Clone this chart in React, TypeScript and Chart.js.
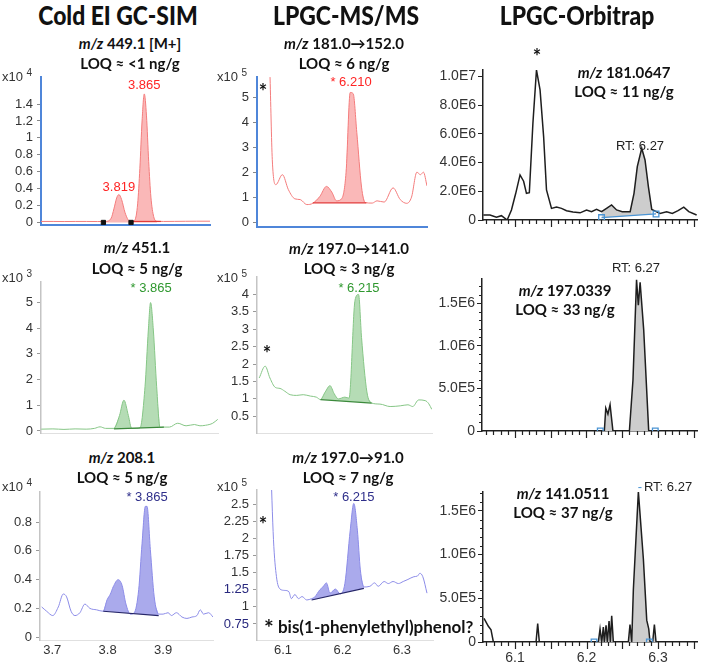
import React, { useEffect, useRef } from "react";
import { Chart, registerables } from "chart.js";

Chart.register(...registerables);

// ================= DATA =================
// Column titles and panel captions
const columnTitles = ["Cold EI GC-SIM", "LPGC-MS/MS", "LPGC-Orbitrap"];
const mzTexts = ["449.1 [M+]", "451.1", "208.1", "181.0\u2192152.0", "197.0\u2192141.0", "197.0\u219291.0", "181.0647", "197.0339", "141.0511"];
const loqTexts = ["<1", "5", "5", "6", "3", "7", "11", "33", "37"];
const exponentTexts = ["4", "3", "4", "5", "5", "5"];
const footnoteText = "bis(1-phenylethyl)phenol?";

// Cold EI GC-SIM, m/z 449.1 (x10^4 counts) vs retention time (min)
const sim449X = [3.678, 3.7, 3.72, 3.74, 3.76, 3.78, 3.795, 3.805, 3.81, 3.815, 3.819, 3.824, 3.83, 3.836, 3.842, 3.848, 3.853, 3.857, 3.861, 3.865, 3.869, 3.873, 3.877, 3.882, 3.888, 3.9, 3.92, 3.94, 3.96, 3.984];
const sim449Y = [0.012, 0.012, 0.011, 0.012, 0.012, 0.011, 0.012, 0.05, 0.16, 0.29, 0.33, 0.27, 0.12, 0.03, 0.012, 0.03, 0.22, 0.64, 1.2, 1.52, 1.26, 0.72, 0.3, 0.07, 0.014, 0.012, 0.013, 0.014, 0.015, 0.015];
const sim449BaseX = [3.841, 3.895];
const sim449BaseY = [0.012, 0.012];
const sim449MarkX = [3.791, 3.841];
const sim449MarkY = [0, 0];

// Cold EI GC-SIM, m/z 451.1 (x10^3)
const sim451X = [3.669, 3.69, 3.71, 3.73, 3.75, 3.765, 3.775, 3.785, 3.8, 3.81, 3.818, 3.826, 3.832, 3.84, 3.847, 3.856, 3.862, 3.866, 3.871, 3.877, 3.883, 3.89, 3.9, 3.915, 3.93, 3.945, 3.955, 3.965, 3.978, 3.987];
const sim451Y = [0.07, 0.08, 0.06, 0.08, 0.07, 0.1, 0.16, 0.1, 0.1, 0.6, 1.2, 0.6, 0.1, 0.1, 0.12, 1.72, 3.93, 5.0, 3.93, 1.72, 0.14, 0.15, 0.15, 0.3, 0.2, 0.25, 0.2, 0.22, 0.3, 0.45];
const sim451BaseX = [3.8, 3.89];
const sim451BaseY = [0.08, 0.15];

// Cold EI GC-SIM, m/z 208.1 (x10^4)
const sim208X = [3.681, 3.69, 3.701, 3.711, 3.72, 3.726, 3.734, 3.741, 3.75, 3.759, 3.768, 3.78, 3.792, 3.799, 3.805, 3.81, 3.819, 3.826, 3.833, 3.841, 3.848, 3.856, 3.862, 3.868, 3.871, 3.877, 3.884, 3.892, 3.9, 3.909, 3.915, 3.924, 3.934, 3.943, 3.952, 3.961, 3.967, 3.973, 3.982, 3.99];
const sim208Y = [0.21, 0.18, 0.15, 0.21, 0.3, 0.28, 0.18, 0.15, 0.17, 0.23, 0.2, 0.19, 0.18, 0.26, 0.3, 0.35, 0.4, 0.36, 0.23, 0.16, 0.17, 0.33, 0.65, 0.91, 0.91, 0.61, 0.28, 0.16, 0.16, 0.17, 0.15, 0.17, 0.14, 0.13, 0.14, 0.15, 0.19, 0.16, 0.17, 0.14];
const sim208BaseX = [3.792, 3.892];
const sim208BaseY = [0.18, 0.15];

// LPGC-MS/MS, 181.0 -> 152.0 (x10^5)
const ms152X = [6.074, 6.078, 6.082, 6.088, 6.099, 6.109, 6.12, 6.129, 6.14, 6.15, 6.162, 6.173, 6.182, 6.19, 6.199, 6.206, 6.213, 6.218, 6.224, 6.232, 6.238, 6.25, 6.258, 6.27, 6.285, 6.297, 6.308, 6.316, 6.325, 6.331, 6.336, 6.342];
const ms152Y = [9, 6, 2.5, 1.5, 1.9, 1.3, 0.93, 0.9, 0.7, 0.75, 1.03, 1.43, 1.2, 0.85, 0.95, 2.0, 5.2, 5.15, 3.6, 1.4, 0.78, 0.76, 0.85, 0.8, 1.37, 0.9, 0.75, 1.0, 2.0, 1.9, 2.0, 1.45];
const ms152BaseX = [6.15, 6.24];
const ms152BaseY = [0.77, 0.77];

// LPGC-MS/MS, 197.0 -> 141.0 (x10^5)
const ms141X = [6.06, 6.07, 6.078, 6.087, 6.095, 6.103, 6.112, 6.123, 6.134, 6.146, 6.156, 6.163, 6.171, 6.179, 6.186, 6.193, 6.204, 6.211, 6.221, 6.227, 6.232, 6.241, 6.249, 6.263, 6.28, 6.297, 6.31, 6.318, 6.328, 6.339, 6.345, 6.35];
const ms141Y = [1.6, 1.94, 1.6, 1.33, 1.3, 1.22, 1.12, 1.1, 1.12, 1.08, 1.05, 0.98, 1.2, 1.38, 1.15, 1.0, 1.05, 1.02, 3.83, 4.0, 2.76, 1.2, 0.88, 0.85, 0.78, 0.8, 0.83, 0.78, 0.97, 0.95, 0.86, 0.7];
const ms141BaseX = [6.163, 6.249];
const ms141BaseY = [0.98, 0.88];

// LPGC-MS/MS, 197.0 -> 91.0 (x10^5)
const ms91X = [6.079, 6.084, 6.089, 6.095, 6.103, 6.11, 6.114, 6.12, 6.126, 6.132, 6.14, 6.148, 6.153, 6.162, 6.167, 6.173, 6.179, 6.188, 6.196, 6.204, 6.213, 6.219, 6.225, 6.23, 6.236, 6.246, 6.254, 6.26, 6.27, 6.277, 6.285, 6.294, 6.302, 6.31, 6.32, 6.326, 6.33, 6.335, 6.342];
const ms91Y = [3.2, 1.98, 1.44, 1.26, 1.24, 1.22, 1.12, 1.18, 1.12, 1.15, 1.1, 1.12, 1.14, 1.25, 1.29, 1.35, 1.2, 1.26, 1.19, 1.34, 2.12, 2.51, 2.12, 1.54, 1.29, 1.3, 1.35, 1.3, 1.37, 1.34, 1.37, 1.34, 1.37, 1.4, 1.44, 1.45, 1.49, 1.44, 1.2];
const ms91BaseX = [6.148, 6.236];
const ms91BaseY = [1.1, 1.27];
const ms91NavyTicks = [0.75, 1.25];

// LPGC-Orbitrap, m/z 181.0647 (millions of counts)
const ot181X = [6.0557, 6.065, 6.074, 6.081, 6.089, 6.095, 6.101, 6.107, 6.112, 6.116, 6.12, 6.125, 6.13, 6.135, 6.14, 6.144, 6.151, 6.158, 6.165, 6.172, 6.181, 6.191, 6.2, 6.207, 6.214, 6.221, 6.228, 6.235, 6.242, 6.25, 6.261, 6.2664, 6.271, 6.2772, 6.2818, 6.2865, 6.2912, 6.3028, 6.312, 6.32, 6.328, 6.336, 6.343, 6.354];
const ot181Y = [0.35, 0.35, 0.2, 0.3, 0.0, 0.7, 1.86, 3.14, 2.7, 1.86, 1.9, 6.74, 10.45, 9.06, 5.8, 2.09, 0.81, 0.9, 0.81, 0.65, 0.56, 0.5, 0.7, 0.58, 0.74, 0.58, 0.81, 1.05, 0.7, 0.58, 0.58, 1.86, 3.72, 5.0, 4.18, 2.32, 0.74, 0.46, 0.58, 0.46, 0.65, 0.9, 0.58, 0.35];
const ot181BaseX = [6.221, 6.2972];
const ot181BaseY = [0.17, 0.42];

// LPGC-Orbitrap, m/z 197.0339 (millions)
const ot197X = [6.054, 6.225, 6.227, 6.23, 6.233, 6.237, 6.26, 6.265, 6.27, 6.2725, 6.275, 6.28, 6.287, 6.3545];
const ot197Y = [0, 0, 0.27, 0.2, 0.31, 0, 0, 0.6, 1.78, 1.48, 1.75, 1.19, 0, 0];
const ot197BaseX = [6.2193, 6.2962];
const ot197BaseY = [0, 0];

// LPGC-Orbitrap, m/z 141.0511 (millions)
const ot141X = [6.0566, 6.0627, 6.0664, 6.0697, 6.1294, 6.1317, 6.134, 6.2165, 6.2189, 6.2212, 6.2235, 6.2249, 6.2273, 6.2291, 6.2315, 6.2333, 6.2352, 6.2375, 6.2585, 6.2608, 6.2632, 6.2655, 6.2725, 6.2795, 6.2842, 6.287, 6.2888, 6.2925, 6.2949, 6.2972, 6.3545];
const ot141Y = [0.27, 0.18, 0.14, 0, 0, 0.21, 0, 0, 0.15, 0, 0.17, 0, 0.19, 0, 0.24, 0, 0.3, 0, 0, 0.2, 0, 0.6, 1.72, 0.95, 0.25, 0.15, 0, 0, 0.2, 0, 0];
const ot141BaseX = [6.2105, 6.2879];
const ot141BaseY = [0, 0];

// Peak annotation texts
const peakTexts = ["3.865", "3.819", "* 3.865", "* 3.865", "* 6.210", "* 6.215", "* 6.215", "RT: 6.27", "*", "RT: 6.27", "RT: 6.27"];

// ================= HELPERS / STYLES =================
type Pt = { x: number; y: number };
const zip = (xs: number[], ys: number[]): Pt[] => xs.map((x, i) => ({ x, y: ys[i] }));

const TICK_FONT = "'Liberation Sans', Arial, sans-serif";
const TEXT_FONT = "Lato, 'Open Sans', sans-serif";

const RED = { line: "#f47c7c", fill: "rgba(247,140,140,0.62)", base: "#e23a3a", text: "#ff2424" };
const GREEN = { line: "#86c686", fill: "rgba(135,198,135,0.62)", base: "#3c8a3c", text: "#2f982f" };
const BLUE = { line: "#8c8ce8", fill: "rgba(118,118,225,0.62)", base: "#262668", text: "#2e2e8a" };
const ORBI = { line: "#1e1e1e", fill: "#cdcdcd", base: "#4a94d4" };
const AXIS_BLUE = "#4f86d9";
const LIGHT_AXIS = "#c4c4c4";
const LIGHT_X = "#e0e0e0";

interface Note { x: number; y: number; text: string; color: string; font: string }
interface Panel {
  box: [number, number, number, number];
  xr: [number, number];
  yr: [number, number];
  yStep: number;
  yTickMax?: number;
  yMinor?: number;
  yNavy?: number[];
  xLabels?: boolean;
  orbi?: boolean;
  pt?: number;
  axisColor: string;
  axisWidth: number;
  xAxisColor: string;
  xAxisWidth: number;
  xDash?: number[];
  tickColor: string;
  trace: Pt[];
  fillRange: [number, number];
  base: Pt[];
  fillToBase: boolean;
  baseLine: boolean;
  baseMarkers?: boolean;
  color: { line: string; fill: string; base: string };
  lineWidth: number;
  smooth: boolean;
  markers?: Pt[];
  notes: Note[];
}

const agilentNote = (x: number, y: number, text: string, color: string): Note => ({ x, y, text, color, font: `13px ${TICK_FONT}` });
const orbiNote = (x: number, y: number, text: string): Note => ({ x, y, text, color: "#222", font: `13px ${TICK_FONT}` });

const panels: Panel[] = [
  {
    box: [41, 77, 210, 225], xr: [3.678, 3.984], yr: [-0.03, 1.72], yStep: 0.2, yTickMax: 1.4,
    axisColor: AXIS_BLUE, axisWidth: 2, xAxisColor: AXIS_BLUE, xAxisWidth: 2, tickColor: "#888",
    trace: zip(sim449X, sim449Y), fillRange: [3.795, 3.888], base: zip(sim449BaseX, sim449BaseY), fillToBase: false, baseLine: true,
    color: RED, lineWidth: 1, smooth: true, markers: zip(sim449MarkX, sim449MarkY),
    notes: [agilentNote(3.865, 1.62, peakTexts[0], RED.text), agilentNote(3.819, 0.42, peakTexts[1], RED.text)],
  },
  {
    box: [41, 282, 218, 433], xr: [3.6686, 3.9875], yr: [-0.08, 5.8], yStep: 1,
    axisColor: LIGHT_AXIS, axisWidth: 1.5, xAxisColor: LIGHT_X, xAxisWidth: 1, xDash: [2, 2], tickColor: "#999",
    trace: zip(sim451X, sim451Y), fillRange: [3.8, 3.883], base: zip(sim451BaseX, sim451BaseY), fillToBase: true, baseLine: true,
    color: GREEN, lineWidth: 1, smooth: true,
    notes: [agilentNote(3.867, 5.56, peakTexts[2], GREEN.text)],
  },
  {
    box: [40, 492, 213, 640], xr: [3.678, 3.99], yr: [-0.02, 1.01], yStep: 0.2, yTickMax: 0.8, xLabels: true,
    axisColor: LIGHT_AXIS, axisWidth: 1.5, xAxisColor: LIGHT_X, xAxisWidth: 1, tickColor: "#999",
    trace: zip(sim208X, sim208Y), fillRange: [3.792, 3.892], base: zip(sim208BaseX, sim208BaseY), fillToBase: true, baseLine: true,
    color: BLUE, lineWidth: 1, smooth: true,
    notes: [agilentNote(3.871, 0.975, peakTexts[3], BLUE.text)],
  },
  {
    box: [257, 77, 427, 227], xr: [6.0563, 6.342], yr: [-0.2, 5.82], yStep: 1,
    axisColor: AXIS_BLUE, axisWidth: 2, xAxisColor: AXIS_BLUE, xAxisWidth: 2, tickColor: "#888",
    trace: zip(ms152X, ms152Y), fillRange: [6.15, 6.238], base: zip(ms152BaseX, ms152BaseY), fillToBase: true, baseLine: true,
    color: RED, lineWidth: 1, smooth: true,
    notes: [agilentNote(6.2143, 5.59, peakTexts[4], RED.text)],
  },
  {
    box: [257, 277, 432, 433], xr: [6.0563, 6.3504], yr: [0.02, 4.5], yStep: 0.5, yTickMax: 4,
    axisColor: LIGHT_AXIS, axisWidth: 1.5, xAxisColor: LIGHT_X, xAxisWidth: 1, tickColor: "#999",
    trace: zip(ms141X, ms141Y), fillRange: [6.163, 6.249], base: zip(ms141BaseX, ms141BaseY), fillToBase: true, baseLine: true,
    color: GREEN, lineWidth: 1, smooth: true,
    notes: [agilentNote(6.2277, 4.17, peakTexts[5], GREEN.text)],
  },
  {
    box: [257, 490, 433, 640], xr: [6.0563, 6.3521], yr: [0.516, 2.706], yStep: 0.25, xLabels: true, yNavy: ms91NavyTicks,
    axisColor: LIGHT_AXIS, axisWidth: 1.5, xAxisColor: LIGHT_X, xAxisWidth: 1, tickColor: "#999",
    trace: zip(ms91X, ms91Y), fillRange: [6.148, 6.236], base: zip(ms91BaseX, ms91BaseY), fillToBase: true, baseLine: true,
    color: BLUE, lineWidth: 1, smooth: true,
    notes: [agilentNote(6.219, 2.604, peakTexts[6], BLUE.text)],
  },
  {
    box: [483, 70, 697, 220], xr: [6.0552, 6.3545], yr: [0, 10.45], yStep: 2, orbi: true, pt: 28,
    axisColor: "#222", axisWidth: 1.5, xAxisColor: "#222", xAxisWidth: 1.5, tickColor: "#222",
    trace: zip(ot181X, ot181Y), fillRange: [6.221, 6.2912], base: zip(ot181BaseX, ot181BaseY), fillToBase: true, baseLine: true, baseMarkers: true,
    color: ORBI, lineWidth: 1.5, smooth: false,
    notes: [orbiNote(6.2748, 5.16, peakTexts[7]), { x: 6.1308, y: 11.3, text: peakTexts[8], color: "#111", font: `bold 20px ${TEXT_FONT}` }],
  },
  {
    box: [482, 279, 697, 431], xr: [6.054, 6.3545], yr: [0, 1.788], yStep: 0.5, yMinor: 0.1, orbi: true, pt: 28,
    axisColor: "#222", axisWidth: 1.5, xAxisColor: "#222", xAxisWidth: 1.5, tickColor: "#222",
    trace: zip(ot197X, ot197Y), fillRange: [6.225, 6.287], base: zip(ot197BaseX, ot197BaseY), fillToBase: false, baseLine: false, baseMarkers: true,
    color: ORBI, lineWidth: 1.5, smooth: false,
    notes: [orbiNote(6.2692, 1.918, peakTexts[9])],
  },
  {
    box: [483, 492, 697, 642], xr: [6.0552, 6.3545], yr: [0, 1.716], yStep: 0.5, yMinor: 0.1, xLabels: true, orbi: true, pt: 28,
    axisColor: "#222", axisWidth: 1.5, xAxisColor: "#222", xAxisWidth: 1.5, tickColor: "#222",
    trace: zip(ot141X, ot141Y), fillRange: [6.2165, 6.2972], base: zip(ot141BaseX, ot141BaseY), fillToBase: false, baseLine: false, baseMarkers: true,
    color: ORBI, lineWidth: 1.5, smooth: false,
    notes: [orbiNote(6.314, 1.773, peakTexts[10]), { x: 6.2748, y: 1.773, text: "-", color: "#4a94d4", font: `13px ${TICK_FONT}` }],
  },
];

// ================= LAYOUT (page pixels) =================
const titlePos = [[118, 15], [346, 15], [577, 15]];
const captionPos = [[130, 43, 63], [137, 247, 268], [122, 457, 477], [344, 43, 63], [349, 248, 268], [348, 457, 477], [624, 72, 91], [565, 290, 309], [563, 493, 512]];
const exponentPos = [[2, 77], [2, 278], [2, 487], [217, 77], [217, 278], [217, 487]];
const starPos = [[263, 91], [267, 353], [263, 524]];

function PanelChart({ p }: { p: Panel }) {
  const ref = useRef<HTMLCanvasElement | null>(null);
  const [L, T, R, B] = p.box;
  const YW = p.orbi ? 62 : 46;
  const PT = p.pt ?? 14;
  const PR = 6;
  const XH = p.xLabels ? 28 : 14;
  const w = R - L + YW + PR;
  const h = B - T + PT + XH;

  useEffect(() => {
    if (!ref.current) return;
    const fillPts = p.trace.filter((d) => d.x >= p.fillRange[0] - 1e-9 && d.x <= p.fillRange[1] + 1e-9);
    const interp = p.smooth ? "monotone" : "default";
    const datasets: any[] = [
      {
        data: p.base,
        borderColor: p.baseLine ? p.color.base : "rgba(0,0,0,0)",
        borderWidth: 1.2,
        pointRadius: p.baseMarkers ? 4 : 0,
        pointStyle: "rect",
        pointBorderColor: p.color.base,
        pointBackgroundColor: "rgba(0,0,0,0)",
        pointBorderWidth: 1.3,
        fill: false,
        tension: 0,
        order: 1,
      },
      {
        data: fillPts,
        borderWidth: 0,
        borderColor: "rgba(0,0,0,0)",
        backgroundColor: p.color.fill,
        pointRadius: 0,
        fill: p.fillToBase ? 0 : "origin",
        tension: p.smooth ? 0.4 : 0,
        cubicInterpolationMode: interp,
        order: 3,
      },
      {
        data: p.trace,
        borderColor: p.color.line,
        borderWidth: p.lineWidth,
        pointRadius: 0,
        fill: false,
        tension: p.smooth ? 0.4 : 0,
        cubicInterpolationMode: interp,
        order: 2,
      },
    ];
    if (p.markers) {
      datasets.push({
        data: p.markers,
        showLine: false,
        pointStyle: "rect",
        pointRadius: 3,
        pointBackgroundColor: "#111",
        pointBorderColor: "#111",
        order: 0,
      });
    }

    const notesPlugin = {
      id: "peakNotes",
      afterDatasetsDraw(chart: any) {
        const { ctx } = chart;
        const xs = chart.scales.x;
        const ys = chart.scales.y;
        ctx.save();
        ctx.textAlign = "center";
        ctx.textBaseline = "middle";
        for (const n of p.notes) {
          ctx.font = n.font;
          ctx.fillStyle = n.color;
          ctx.fillText(n.text, xs.getPixelForValue(n.x), ys.getPixelForValue(n.y));
        }
        ctx.restore();
      },
    };

    const orbiTicks = {
      id: "orbiTicks",
      afterDraw(chart: any) {
        if (!p.orbi) return;
        const { ctx, chartArea } = chart;
        const xs = chart.scales.x;
        const ys = chart.scales.y;
        ctx.save();
        ctx.strokeStyle = "#222";
        ctx.lineWidth = 1.2;
        ctx.beginPath();
        const i0 = Math.ceil(xs.min * 100 - 1e-6);
        const i1 = Math.floor(xs.max * 100 + 1e-6);
        for (let i = i0; i <= i1; i++) {
          const px = Math.round(xs.getPixelForValue(i / 100)) + 0.5;
          const len = i % 5 === 0 ? 7 : 4;
          ctx.moveTo(px, chartArea.bottom);
          ctx.lineTo(px, chartArea.bottom + len);
        }
        if (p.yMinor) {
          for (let k = 1; k * p.yMinor < ys.max; k++) {
            if (k % 5 === 0) continue;
            const py = Math.round(ys.getPixelForValue(k * p.yMinor)) + 0.5;
            ctx.moveTo(chartArea.left - 3, py);
            ctx.lineTo(chartArea.left, py);
          }
        }
        ctx.stroke();
        ctx.restore();
      },
    };

    const yFmt = (v: any) => {
      const n = Number(v);
      if (p.orbi) return n === 0 ? "0" : (n * 1e6).toExponential(1).replace("e+", "E");
      return String(Math.round(n * 100) / 100);
    };
    const yTickColor = (ctx: any) => {
      const v = ctx.tick ? ctx.tick.value : NaN;
      if (p.yNavy && p.yNavy.some((n) => Math.abs(n - v) < 1e-6)) return "#28287e";
      return "#333";
    };

    const chart = new Chart(ref.current, {
      type: "line",
      data: { datasets },
      plugins: [notesPlugin, orbiTicks],
      options: {
        animation: false,
        responsive: false,
        maintainAspectRatio: false,
        events: [],
        layout: { padding: { top: PT, right: PR, left: 0, bottom: 0 } },
        plugins: { legend: { display: false }, tooltip: { enabled: false } },
        scales: {
          x: {
            type: "linear",
            min: p.xr[0],
            max: p.xr[1],
            afterFit: (s: any) => { s.height = XH; },
            grid: { display: false, drawTicks: false },
            border: { display: true, color: p.xAxisColor, width: p.xAxisWidth, dash: p.xDash ?? [] },
            ticks: {
              display: !!p.xLabels,
              stepSize: 0.1,
              autoSkip: false,
              includeBounds: false,
              maxRotation: 0,
              padding: p.orbi ? 8 : 3,
              color: "#333",
              font: { family: TICK_FONT, size: p.orbi ? 14 : 13 },
              callback: (v: any) => Number(v).toFixed(1),
            },
          },
          y: {
            type: "linear",
            min: p.yr[0],
            max: p.yr[1],
            afterFit: (s: any) => { s.width = YW; },
            afterBuildTicks: (s: any) => {
              if (p.yTickMax !== undefined) s.ticks = s.ticks.filter((t: any) => t.value <= p.yTickMax! + 1e-9);
            },
            grid: { display: true, drawOnChartArea: false, drawTicks: true, tickLength: p.orbi ? 5 : 4, color: p.tickColor, lineWidth: 1 },
            border: { display: true, color: p.axisColor, width: p.axisWidth },
            ticks: {
              stepSize: p.yStep,
              autoSkip: false,
              includeBounds: false,
              padding: p.orbi ? 2 : 4,
              color: yTickColor,
              font: { family: TICK_FONT, size: p.orbi ? 14 : 13 },
              callback: yFmt,
            },
          },
        },
      } as any,
    });
    return () => chart.destroy();
  }, [p]);

  return (
    <canvas
      ref={ref}
      width={w}
      height={h}
      style={{ position: "absolute", left: L - YW, top: T - PT, width: w, height: h }}
    />
  );
}

const abs = (x: number, y: number, extra: React.CSSProperties = {}, sx = 1): React.CSSProperties => ({
  position: "absolute",
  left: x,
  top: y,
  transform: `translate(-50%, -50%) scaleX(${sx})`,
  whiteSpace: "nowrap",
  lineHeight: 1,
  ...extra,
});

export default function App() {
  return (
    <div style={{ position: "fixed", left: 0, top: 0, width: 709, height: 665, background: "#fff", overflow: "hidden", color: "#111" }}>
      {panels.map((p, i) => (
        <PanelChart key={i} p={p} />
      ))}
      {columnTitles.map((t, i) => (
        <div key={"t" + i} style={abs(titlePos[i][0], titlePos[i][1], { font: `900 26px ${TEXT_FONT}` }, 0.88)}>{t}</div>
      ))}
      {mzTexts.map((m, i) => (
        <React.Fragment key={"c" + i}>
          <div style={abs(captionPos[i][0], captionPos[i][1], { font: `bold 15px ${TEXT_FONT}` })}>
            <i>m/z</i> {m}
          </div>
          <div style={abs(captionPos[i][0], captionPos[i][2], { font: `bold 15px ${TEXT_FONT}` })}>
            LOQ &#8776; {loqTexts[i]} ng/g
          </div>
        </React.Fragment>
      ))}
      {exponentTexts.map((e, i) => (
        <div key={"e" + i} style={{ position: "absolute", left: exponentPos[i][0], top: exponentPos[i][1] - 7, font: `13px ${TICK_FONT}`, color: "#333", whiteSpace: "nowrap", lineHeight: 1 }}>
          x10 <span style={{ fontSize: 10, position: "relative", top: -5 }}>{e}</span>
        </div>
      ))}
      {starPos.map((s, i) => (
        <div key={"s" + i} style={abs(s[0], s[1], { font: `bold 20px ${TEXT_FONT}` })}>*</div>
      ))}
      <div style={{ position: "absolute", left: 264, top: 613, whiteSpace: "nowrap", font: `bold 17px ${TEXT_FONT}`, lineHeight: 1 }}>
        <span style={{ fontSize: 23, position: "relative", top: 3 }}>*</span> {footnoteText}
      </div>
    </div>
  );
}
